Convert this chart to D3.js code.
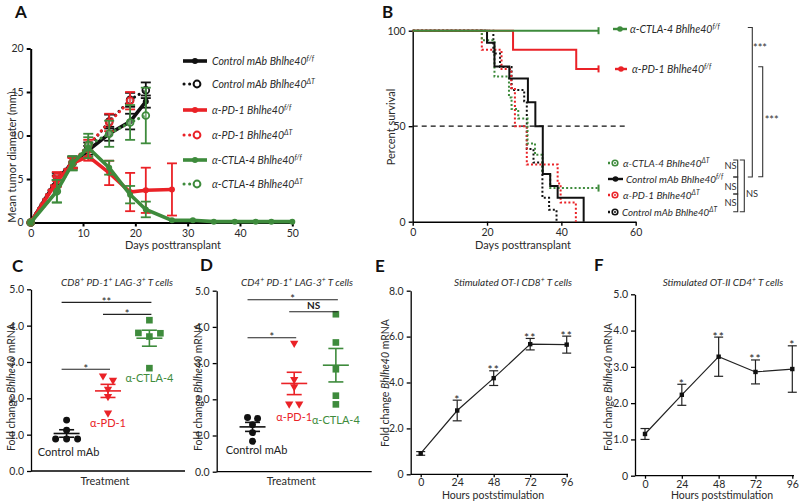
<!DOCTYPE html>
<html><head><meta charset="utf-8">
<script src="https://cdn.jsdelivr.net/npm/d3@7"></script>
<style>body{margin:0;background:#fff}svg{display:block}text{font-family:Lato,'Open Sans',sans-serif}</style>
</head><body>
<svg id="c" width="799" height="501"></svg>
<script>
// ---------------- DATA ----------------
// Panel A: tumor growth (days, mean mm, error)
const daysCtrlFF = [0,5,8,11,15,19,22];
const meanCtrlFF = [0,4.9,6.9,8.3,10.2,11.6,13.9];
const errCtrlFF  = [0,0.5,0.6,0.5,0.8,0.9,0.7];
const daysCtrlDT = [0,5,8,11,15,19,22];
const meanCtrlDT = [0,5.3,6.9,8.7,11.6,14.1,15.2];
const errCtrlDT  = [0,0.4,0.7,0.5,0.8,0.8,0.9];
const daysPD1FF  = [0,5,8,11,15,19,22,27];
const meanPD1FF  = [0,4.7,6.8,7.6,5.7,3.5,3.7,3.8];
const errPD1FF   = [0,0.6,0.6,0.5,1.4,2.2,2.6,3.0];
const daysPD1DT  = [0,5,8,11,15,19];
const meanPD1DT  = [0,5.3,6.9,8.9,11.5,14.0];
const errPD1DT   = [0,0.5,0.6,0.6,1.0,1.0];
const daysCTLA4FF = [0,5,8,11,15,19,22,27,31,35,39,43,46,50];
const meanCTLA4FF = [0,3.6,6.8,8.6,6.3,3.2,1.5,0.25,0.25,0.1,0.1,0.1,0.1,0.1];
const errCTLA4FF  = [0,1.3,0.8,1.2,0.8,1.0,0.9,0,0,0,0,0,0,0];
const daysCTLA4DT = [0,5,8,11,15,19,22];
const meanCTLA4DT = [0,3.6,6.8,8.9,10.2,11.5,12.3];
const errCTLA4DT  = [0,1.3,0.8,1.3,1.5,2.0,3.2];
const ticksAx = [0,10,20,30,40,50];
const ticksAy = [0,5,10,15,20];

// Panel B: survival steps [day, percent]
const survCTLA4FF = [[0,100],[50,100]];
const survPD1FF   = [[0,100],[27,90],[44,80],[50,80]];
const survCtrlFF  = [[0,100],[20,93.75],[22,81.25],[26,75],[31,62.5],[33,50],[35,25],[37,18.75],[39,12.5],[46,0]];
const survCtrlDT  = [[0,100],[21.7,88],[23.5,81],[26.6,69],[30,63],[30.7,38],[32.5,31],[34.9,12.5],[36.7,6.25],[38.7,0]];
const survCTLA4DT = [[0,100],[18.6,95],[22,76],[25.9,65],[26.6,59],[28.4,54],[30.9,41],[32.9,35],[34.9,25],[37,17.6],[50,17.6]];
const survPD1DT   = [[0,100],[18.6,90],[23.9,80],[26.5,70],[27.5,50],[30.7,30],[39,20],[39.8,10],[43.9,0]];
const ticksBx = [0,20,40,60];
const ticksBy = [0,50,100];

// Panels C, D: fold change per treatment
const treatments = ["Control","PD-1","CTLA-4"];
const treatLabels = ["Control mAb","\u03b1-PD-1","\u03b1-CTLA-4"];
const cCtrl  = [1.4,0.88,0.88,1.12,0.88];
const cPD1   = [2.62,2.5,2.25,2.05,1.6];
const cCTLA4 = [4.15,3.8,3.7,3.79,2.83];
const dCtrl  = [1.5,1.47,1.3,1.08,0.84];
const dPD1   = [3.55,2.55,2.35,1.87,1.87];
const dCTLA4 = [4.35,3.57,2.83,2.1,1.86];
const ticksCD = [0,1,2,3,4,5];
const sigC = [{a:"Control",b:"PD-1",y:2.8,t:"*"},{a:"Control",b:"CTLA-4",y:4.64,t:"**"},{a:"PD-1",b:"CTLA-4",y:4.31,t:"*"}];
const sigD = [{a:"Control",b:"PD-1",y:3.7,t:"*"},{a:"Control",b:"CTLA-4",y:4.75,t:"*"},{a:"PD-1",b:"CTLA-4",y:4.42,t:"NS"}];

// Panels E, F: time course
const hours = [0,24,48,72,96];
const meanE = [0.91,2.78,4.19,5.67,5.65];
const errE  = [0.08,0.45,0.32,0.25,0.37];
const starsE = ["","*","**","**","**"];
const ticksEy = [0,2,4,6,8];
const meanF = [1.15,2.23,3.28,2.86,2.94];
const errF  = [0.15,0.29,0.54,0.33,0.64];
const starsF = ["","*","**","**","*"];
const ticksFy = [0,1,2,3,4,5];

// ---------------- DRAW ----------------
const RED="#ea2227", GREEN="#3e8b3c", BLACK="#111", TXT="#2a2a2a";
const svg = d3.select("#c");

function styleAxis(g, w, fs){
  g.select(".domain").attr("stroke","#000").attr("stroke-width",w);
  g.selectAll(".tick line").attr("stroke","#000").attr("stroke-width",w);
  g.selectAll(".tick text").attr("font-family","Lato,'Open Sans',sans-serif").attr("font-size",fs).attr("fill",TXT);
}
function rich(sel, x, y, segs, o){
  const t = sel.append("text").attr("x",x).attr("y",y).attr("font-size",o.size)
    .attr("text-anchor",o.anchor||"start").attr("fill",o.fill||TXT)
    .attr("font-style",o.italic?"italic":"normal");
  if(o.rot) t.attr("x",0).attr("y",0).attr("transform",`translate(${x},${y}) rotate(-90)`);
  let raised=false; const r=o.size*0.42;
  segs.forEach(([s,k])=>{
    const sp=t.append("tspan").text(s);
    if(k==="s"){ if(!raised){sp.attr("dy",-r);raised=true;} sp.attr("font-size",o.size*0.68); }
    else { if(raised){sp.attr("dy",r);raised=false;} if(k==="i") sp.attr("font-style","italic"); }
  });
  return t;
}
function letter(t,x,y){
  svg.append("text").attr("x",x).attr("y",y).text(t).attr("font-family","'Liberation Sans',Arial,sans-serif")
    .attr("font-weight","bold").attr("font-size",17).attr("fill","#111");
}

// ===== Panel A =====
const xA = d3.scaleLinear([0,50],[30.7,292.3]);
const yA = d3.scaleLinear([0,20],[222.5,48.5]);
const gA = svg.append("g");
styleAxis(gA.append("g").attr("transform",`translate(0,${yA(0)})`).call(d3.axisBottom(xA).tickValues(ticksAx).tickSize(4).tickSizeOuter(0)),2,10.5);
styleAxis(gA.append("g").attr("transform",`translate(${xA(0)},0)`).call(d3.axisLeft(yA).tickValues(ticksAy).tickSize(4).tickSizeOuter(0)),2,10.5);
gA.append("text").attr("x",173).attr("y",249).attr("text-anchor","middle").attr("font-size",11).attr("fill",TXT).text("Days posttransplant");
gA.append("text").attr("transform","translate(16,157) rotate(-90)").attr("text-anchor","middle").attr("font-size",11).attr("fill",TXT).text("Mean tumor diameter (mm)");
letter("A",15,18);

const seriesA = [
  {d:daysCtrlFF,m:meanCtrlFF,e:errCtrlFF,c:BLACK,dt:false,lab:"Control mAb Bhlhe40",sup:"f/f"},
  {d:daysCtrlDT,m:meanCtrlDT,e:errCtrlDT,c:BLACK,dt:true,lab:"Control mAb Bhlhe40",sup:"\u0394T"},
  {d:daysPD1FF,m:meanPD1FF,e:errPD1FF,c:RED,dt:false,lab:"\u03b1-PD-1 Bhlhe40",sup:"f/f"},
  {d:daysPD1DT,m:meanPD1DT,e:errPD1DT,c:RED,dt:true,lab:"\u03b1-PD-1 Bhlhe40",sup:"\u0394T"},
  {d:daysCTLA4FF,m:meanCTLA4FF,e:errCTLA4FF,c:GREEN,dt:false,lab:"\u03b1-CTLA-4 Bhlhe40",sup:"f/f"},
  {d:daysCTLA4DT,m:meanCTLA4DT,e:errCTLA4DT,c:GREEN,dt:true,lab:"\u03b1-CTLA-4 Bhlhe40",sup:"\u0394T"}
];
const drawOrder=[1,0,3,5,2,4];
const lineA = d3.line().x(p=>xA(p[0])).y(p=>yA(p[1]));
drawOrder.forEach(i=>{
  const s=seriesA[i];
  const pts=s.d.map((d,j)=>[d,s.m[j],s.e[j]]);
  const g=gA.append("g");
  pts.filter(p=>p[2]>0).forEach(p=>{
    g.append("line").attr("x1",xA(p[0])).attr("x2",xA(p[0])).attr("y1",yA(p[1]-p[2])).attr("y2",yA(p[1]+p[2])).attr("stroke",s.c).attr("stroke-width",1.8);
    [p[1]-p[2],p[1]+p[2]].forEach(v=>g.append("line").attr("x1",xA(p[0])-5).attr("x2",xA(p[0])+5).attr("y1",yA(v)).attr("y2",yA(v)).attr("stroke",s.c).attr("stroke-width",1.8));
  });
  const path=g.append("path").attr("d",lineA(pts)).attr("fill","none").attr("stroke",s.c).attr("stroke-linecap","round");
  if(s.dt) path.attr("stroke-width",3).attr("stroke-dasharray","0.1,5.2"); else path.attr("stroke-width",3.6);
  pts.forEach(p=>{
    if(s.dt) g.append("circle").attr("cx",xA(p[0])).attr("cy",yA(p[1])).attr("r",3.4).attr("fill","#fff").attr("fill-opacity",0.3).attr("stroke",s.c).attr("stroke-width",1.8);
    else g.append("circle").attr("cx",xA(p[0])).attr("cy",yA(p[1])).attr("r",3).attr("fill",s.c);
  });
});
// legend A
const legAy=[61,84,110,135,160,184];
seriesA.forEach((s,i)=>{
  const y=legAy[i];
  if(s.dt){
    gA.append("line").attr("x1",184).attr("x2",190).attr("y1",y).attr("y2",y).attr("stroke",s.c).attr("stroke-width",3).attr("stroke-linecap","round").attr("stroke-dasharray","0.1,5.5");
    gA.append("circle").attr("cx",197).attr("cy",y).attr("r",3.4).attr("fill","#fff").attr("stroke",s.c).attr("stroke-width",2);
  } else {
    gA.append("line").attr("x1",183).attr("x2",207).attr("y1",y).attr("y2",y).attr("stroke",s.c).attr("stroke-width",3.6);
    gA.append("circle").attr("cx",195).attr("cy",y).attr("r",3).attr("fill",s.c);
  }
  rich(gA,212,y+4,[[s.lab,""],[s.sup,"s"]],{size:10.5,italic:true});
});

// ===== Panel B =====
const xB = d3.scaleLinear([0,60],[412.7,635.7]);
const yB = d3.scaleLinear([0,100],[221.7,30.7]);
const gB = svg.append("g");
styleAxis(gB.append("g").attr("transform",`translate(0,${yB(0)})`).call(d3.axisBottom(xB).tickValues(ticksBx).tickSize(4).tickSizeOuter(0)),1.4,10.5);
styleAxis(gB.append("g").attr("transform",`translate(${xB(0)},0)`).call(d3.axisLeft(yB).tickValues(ticksBy).tickSize(4).tickSizeOuter(0)),1.4,10.5);
gB.append("text").attr("x",523).attr("y",249).attr("text-anchor","middle").attr("font-size",11).attr("fill",TXT).text("Days posttransplant");
gB.append("text").attr("transform","translate(395,127) rotate(-90)").attr("text-anchor","middle").attr("font-size",11).attr("fill",TXT).text("Percent survival");
letter("B",382,18);
gB.append("line").attr("x1",xB(0)).attr("x2",xB(58)).attr("y1",yB(50)).attr("y2",yB(50)).attr("stroke","#111").attr("stroke-width",1.2).attr("stroke-dasharray","5,4");
const stepB = d3.line().x(p=>xB(p[0])).y(p=>yB(p[1])).curve(d3.curveStepAfter);
const survSeries = [
  {d:survCtrlDT,c:BLACK,dt:true},{d:survPD1DT,c:RED,dt:true},{d:survCTLA4DT,c:GREEN,dt:true},
  {d:survCtrlFF,c:BLACK,dt:false},{d:survPD1FF,c:RED,dt:false},{d:survCTLA4FF,c:GREEN,dt:false}
];
survSeries.forEach(s=>{
  const p=gB.append("path").attr("d",stepB(s.d)).attr("fill","none").attr("stroke",s.c);
  if(s.dt) p.attr("stroke-width",2).attr("stroke-dasharray","2,2.2"); else p.attr("stroke-width",2);
  const last=s.d[s.d.length-1];
  if(last[1]>0) gB.append("line").attr("x1",xB(last[0])).attr("x2",xB(last[0])).attr("y1",yB(last[1])-3.5).attr("y2",yB(last[1])+3.5).attr("stroke",s.c).attr("stroke-width",2);
});
// legend B
const legB = [
  {y:29,c:GREEN,dt:false,x1:613,x2:627,tx:630,fs:10.5,lab:"\u03b1-CTLA-4 Bhlhe40",sup:"f/f"},
  {y:69,c:RED,dt:false,x1:615,x2:627,tx:632,fs:10.5,lab:"\u03b1-PD-1 Bhlhe40",sup:"f/f"},
  {y:163,c:GREEN,dt:true,x1:608,x2:620,tx:623,fs:10,lab:"\u03b1-CTLA-4 Bhlhe40",sup:"\u0394T"},
  {y:179,c:BLACK,dt:false,x1:608,x2:623,tx:626,fs:10,lab:"Control mAb Bhlhe40",sup:"f/f"},
  {y:195,c:RED,dt:true,x1:608,x2:620,tx:623,fs:10,lab:"\u03b1-PD-1 Bhlhe40",sup:"\u0394T"},
  {y:212,c:BLACK,dt:true,x1:608,x2:620,tx:622,fs:9.7,lab:"Control mAb Bhlhe40",sup:"\u0394T"}
];
legB.forEach(l=>{
  const ln=gB.append("line").attr("x1",l.x1).attr("x2",l.x2).attr("y1",l.y).attr("y2",l.y).attr("stroke",l.c).attr("stroke-width",2.4);
  if(l.dt){ ln.attr("stroke-dasharray","2,2");
    gB.append("circle").attr("cx",(l.x1+l.x2)/2+1).attr("cy",l.y).attr("r",2.8).attr("fill","#fff").attr("stroke",l.c).attr("stroke-width",1.6);
    gB.append("circle").attr("cx",(l.x1+l.x2)/2+1).attr("cy",l.y).attr("r",1).attr("fill",l.c);
  } else gB.append("circle").attr("cx",(l.x1+l.x2)/2).attr("cy",l.y).attr("r",2.8).attr("fill",l.c);
  rich(gB,l.tx,l.y+4,[[l.lab,""],[l.sup,"s"]],{size:l.fs,italic:true});
});
// brackets B
function bracket(x, y1, y2, tick){
  gB.append("path").attr("d",`M${x-tick},${y1}H${x}V${y2}H${x-tick}`).attr("fill","none").attr("stroke","#333").attr("stroke-width",1.1);
}
bracket(752.3,27.5,177,4.5);
bracket(762.7,66.7,176.7,4.5);
bracket(737.7,160,177,4.5);
bracket(737.7,177,194,4.5);
bracket(737.7,194,211.7,4.5);
bracket(744.3,160,211.7,4.5);
const brT=[{x:760,y:52,t:"***"},{x:771.7,y:124,t:"***"},{x:730.5,y:169,t:"NS"},{x:730.5,y:190,t:"NS"},{x:730.5,y:206,t:"NS"},{x:752,y:197,t:"NS"}];
brT.forEach(b=>gB.append("text").attr("x",b.x).attr("y",b.y).attr("text-anchor","middle").attr("font-size",b.t==="NS"?9.3:11).attr("fill","#333").text(b.t));

// ===== Panels C & D =====
function scatterPanel(cfg){
  const g=svg.append("g");
  const x=d3.scalePoint(treatments,[cfg.x0,cfg.x1]).padding(0.86);
  const y=d3.scaleLinear([0,5],[cfg.y0,cfg.y5]);
  styleAxis(g.append("g").attr("transform",`translate(${cfg.x0},0)`).call(d3.axisLeft(y).tickValues(ticksCD).tickSize(4).tickSizeOuter(0)),1.3,10.5);
  g.append("line").attr("x1",cfg.x0).attr("x2",cfg.x1).attr("y1",y(0)).attr("y2",y(0)).attr("stroke","#000").attr("stroke-width",1.3);
  g.append("text").attr("x",(cfg.x0+cfg.x1)/2-3).attr("y",485).attr("text-anchor","middle").attr("font-size",11).attr("fill",TXT).text("Treatment");
  rich(g,cfg.ylx,387,[["Fold change ",""],["Bhlhe40","i"],[" mRNA",""]],{size:10.5,anchor:"middle",rot:true});
  rich(g,cfg.tx,286,cfg.title,{size:10,italic:true,anchor:"middle"});
  const cols=[BLACK,RED,GREEN];
  const sym=[d3.symbolCircle,d3.symbolTriangle,d3.symbolSquare];
  const sizes=[38,30,44];
  cfg.groups.forEach((vals,gi)=>{
    const cx=x(treatments[gi]);
    const off=vals.map(()=>0);
    const used=vals.map(()=>false);
    vals.forEach((v,i)=>{
      if(used[i]) return;
      const cl=[]; vals.forEach((w,j)=>{ if(!used[j] && Math.abs(w-v)<0.15){cl.push(j);} });
      cl.forEach(j=>used[j]=true);
      const sp=cl.length===2?10:11;
      cl.forEach((j,k)=>off[j]=(k-(cl.length-1)/2)*sp);
    });
    vals.forEach((v,i)=>{
      g.append("path").attr("d",d3.symbol(sym[gi],sizes[gi])()).attr("transform",`translate(${cx+off[i]},${y(v)})${gi===1?" rotate(180)":""}`).attr("fill",cols[gi]);
    });
    const m=d3.mean(vals), se=d3.deviation(vals)/Math.sqrt(vals.length);
    g.append("line").attr("x1",cx-13).attr("x2",cx+13).attr("y1",y(m)).attr("y2",y(m)).attr("stroke",cols[gi]).attr("stroke-width",1.6);
    g.append("line").attr("x1",cx).attr("x2",cx).attr("y1",y(m-se)).attr("y2",y(m+se)).attr("stroke",cols[gi]).attr("stroke-width",1.6);
    [m-se,m+se].forEach(v=>g.append("line").attr("x1",cx-7.5).attr("x2",cx+7.5).attr("y1",y(v)).attr("y2",y(v)).attr("stroke",cols[gi]).attr("stroke-width",1.6));
    const ly=y(d3.min(vals))+cfg.labOff[gi];
    g.append("text").attr("x",cx+cfg.labDx[gi]).attr("y",ly+4).attr("text-anchor","middle").attr("font-size",11).attr("fill",cols[gi]===BLACK?"#222":cols[gi]).text(treatLabels[gi]);
  });
  cfg.sig.forEach(s=>{
    const xa=x(s.a)-5, xb=x(s.b)+2;
    g.append("line").attr("x1",xa).attr("x2",xb).attr("y1",y(s.y)).attr("y2",y(s.y)).attr("stroke","#222").attr("stroke-width",1.1);
    const t=g.append("text").attr("x",(xa+xb)/2).attr("text-anchor","middle").attr("fill","#222").text(s.t);
    if(s.t==="NS") t.attr("y",y(s.y)-2.5).attr("font-size",10).attr("font-weight","bold");
    else t.attr("y",y(s.y)+3.5).attr("font-size",11);
  });
}
const titleC=[["CD8",""],["+","s"],[" PD-1",""],["+","s"],[" LAG-3",""],["+","s"],[" T cells",""]];
const titleD=[["CD4",""],["+","s"],[" PD-1",""],["+","s"],[" LAG-3",""],["+","s"],[" T cells",""]];
scatterPanel({x0:31,x1:185,y0:471,y5:289.3,ylx:15,tx:117,title:titleC,groups:[cCtrl,cPD1,cCTLA4],sig:sigC,labOff:[13,10,10],labDx:[2,0,0]});
scatterPanel({x0:216.7,x1:371.7,y0:471.7,y5:290.7,ylx:202,tx:297,title:titleD,groups:[dCtrl,dPD1,dCTLA4],sig:sigD,labOff:[9,13,15.5],labDx:[4,0,0]});
letter("C",12,272);
letter("D",200,271);

// ===== Panels E & F =====
function timePanel(cfg){
  const g=svg.append("g");
  const x=d3.scaleLinear([0,96],[cfg.xa,cfg.xb]);
  const y=d3.scaleLinear([0,cfg.ymax],[cfg.y0,cfg.yTop]);
  styleAxis(g.append("g").attr("transform",`translate(${cfg.ax},0)`).call(d3.axisLeft(y).tickValues(cfg.yt).tickFormat(d=>d===0?"0":d3.format(".1f")(d)).tickSize(4).tickSizeOuter(0)),1.3,10.5);
  const xg=g.append("g").attr("transform",`translate(0,${y(0)})`).call(d3.axisBottom(x).tickValues(hours).tickSize(3).tickPadding(1.5).tickSizeOuter(0));
  styleAxis(xg,1.3,10.5); xg.select(".domain").remove();
  g.append("line").attr("x1",cfg.ax).attr("x2",cfg.axEnd).attr("y1",y(0)).attr("y2",y(0)).attr("stroke","#000").attr("stroke-width",1.3);
  g.append("text").attr("x",cfg.xt).attr("y",499).attr("text-anchor","middle").attr("font-size",10.5).attr("fill",TXT).text("Hours poststimulation");
  rich(g,cfg.ylx,cfg.ylc,[["Fold change ",""],["Bhlhe40","i"],[" mRNA",""]],{size:10.5,anchor:"middle",rot:true});
  rich(g,cfg.tx,286,cfg.title,{size:10,italic:true,anchor:"middle"});
  const pts=hours.map((h,i)=>[h,cfg.m[i],cfg.e[i],cfg.s[i]]);
  g.append("path").attr("d",d3.line().x(p=>x(p[0])).y(p=>y(p[1]))(pts)).attr("fill","none").attr("stroke","#222").attr("stroke-width",1.2);
  pts.forEach(p=>{
    const cx=x(p[0]);
    g.append("line").attr("x1",cx).attr("x2",cx).attr("y1",y(p[1]-p[2])).attr("y2",y(p[1]+p[2])).attr("stroke","#222").attr("stroke-width",1.2);
    [p[1]-p[2],p[1]+p[2]].forEach(v=>g.append("line").attr("x1",cx-4.5).attr("x2",cx+4.5).attr("y1",y(v)).attr("y2",y(v)).attr("stroke","#222").attr("stroke-width",1.2));
    g.append("rect").attr("x",cx-2.2).attr("y",y(p[1])-2.2).attr("width",4.4).attr("height",4.4).attr("fill","#111");
    if(p[3]) g.append("text").attr("x",cx).attr("y",y(p[1]+p[2])+3.5).attr("text-anchor","middle").attr("font-size",12).attr("letter-spacing",1).attr("fill","#222").text(p[3]);
  });
}
timePanel({xa:420.7,xb:566.7,ax:410.7,axEnd:568,y0:474.3,yTop:290.7,ymax:8,yt:ticksEy,m:meanE,e:errE,s:starsE,xt:493,ylx:389,ylc:383,tx:513,
  title:[["Stimulated OT-I CD8",""],["+","s"],[" T cells",""]]});
timePanel({xa:645,xb:792.3,ax:635,axEnd:794,y0:475.7,yTop:294.3,ymax:5,yt:ticksFy,m:meanF,e:errF,s:starsF,xt:722,ylx:612,ylc:387,tx:723,
  title:[["Stimulated OT-II CD4",""],["+","s"],[" T cells",""]]});
letter("E",375,272);
letter("F",594,271);
</script>
</body></html>
